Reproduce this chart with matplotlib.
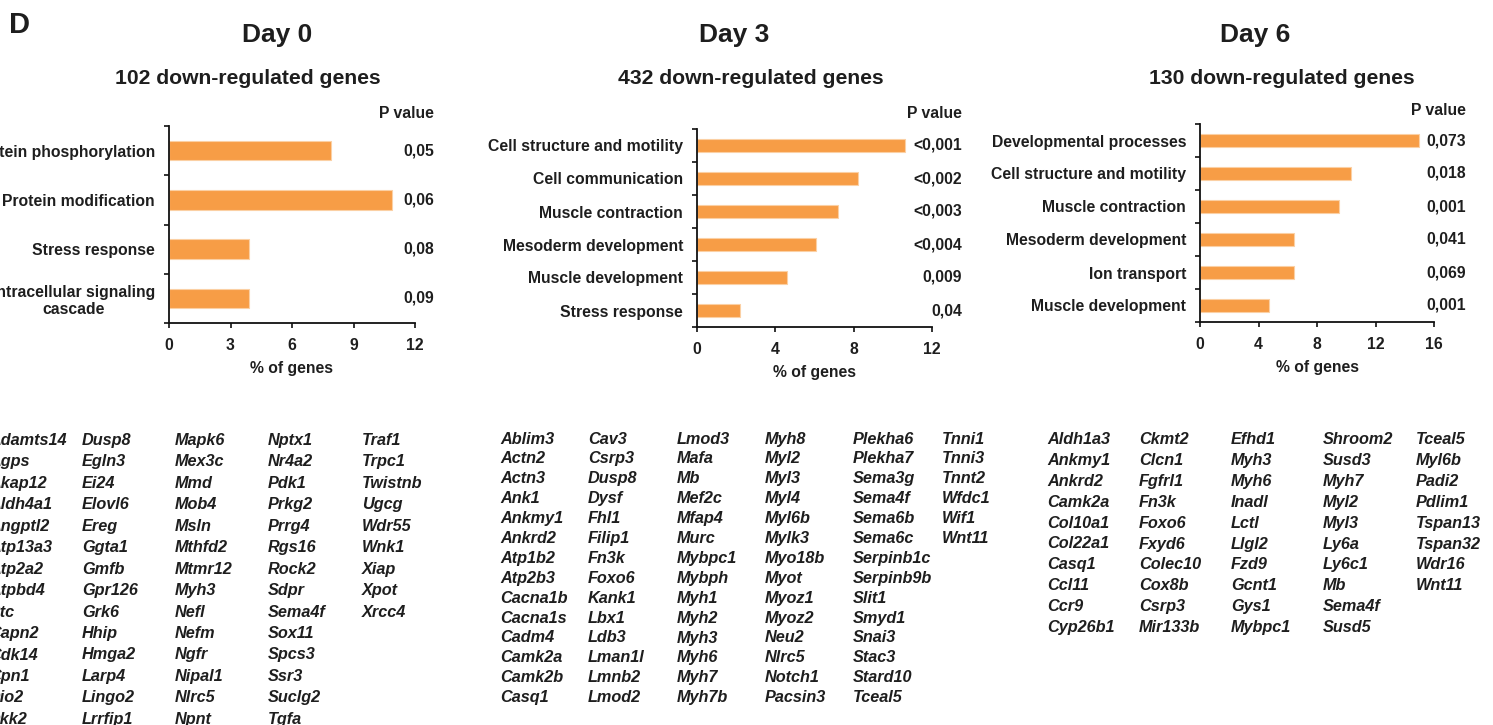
import matplotlib
matplotlib.use("Agg")
import matplotlib.pyplot as plt

# ---------------- data ----------------
day0_categories = ["Protein phosphorylation", "Protein modification", "Stress response",
                   "Intracellular signaling\ncascade"]
day0_values = [7.9, 10.9, 3.9, 3.9]
day0_pvalues = ["0,05", "0,06", "0,08", "0,09"]
day0_xticks = [0, 3, 6, 9, 12]

day3_categories = ["Cell structure and motility", "Cell communication", "Muscle contraction",
                   "Mesoderm development", "Muscle development", "Stress response"]
day3_values = [10.6, 8.2, 7.2, 6.1, 4.6, 2.2]
day3_pvalues = ["<0,001", "<0,002", "<0,003", "<0,004", "0,009", "0,04"]
day3_xticks = [0, 4, 8, 12]

day6_categories = ["Developmental processes", "Cell structure and motility", "Muscle contraction",
                   "Mesoderm development", "Ion transport", "Muscle development"]
day6_values = [15.0, 10.3, 9.5, 6.4, 6.4, 4.7]
day6_pvalues = ["0,073", "0,018", "0,001", "0,041", "0,069", "0,001"]
day6_xticks = [0, 4, 8, 12, 16]

day_titles = ["Day 0", "Day 3", "Day 6"]
subtitles = ["102 down-regulated genes", "432 down-regulated genes", "130 down-regulated genes"]

day0_genes = [
    ["Adamts14", "Agps", "Akap12", "Aldh4a1", "Angptl2", "Atp13a3", "Atp2a2", "Atpbd4",
     "Btc", "Capn2", "Cdk14", "Cpn1", "Dio2", "Dkk2"],
    ["Dusp8", "Egln3", "Ei24", "Elovl6", "Ereg", "Ggta1", "Gmfb", "Gpr126", "Grk6", "Hhip",
     "Hmga2", "Larp4", "Lingo2", "Lrrfip1"],
    ["Mapk6", "Mex3c", "Mmd", "Mob4", "Msln", "Mthfd2", "Mtmr12", "Myh3", "Nefl", "Nefm",
     "Ngfr", "Nipal1", "Nlrc5", "Npnt"],
    ["Nptx1", "Nr4a2", "Pdk1", "Prkg2", "Prrg4", "Rgs16", "Rock2", "Sdpr", "Sema4f", "Sox11",
     "Spcs3", "Ssr3", "Suclg2", "Tgfa"],
    ["Traf1", "Trpc1", "Twistnb", "Ugcg", "Wdr55", "Wnk1", "Xiap", "Xpot", "Xrcc4"],
]
day3_genes = [
    ["Ablim3", "Actn2", "Actn3", "Ank1", "Ankmy1", "Ankrd2", "Atp1b2", "Atp2b3", "Cacna1b",
     "Cacna1s", "Cadm4", "Camk2a", "Camk2b", "Casq1"],
    ["Cav3", "Csrp3", "Dusp8", "Dysf", "Fhl1", "Filip1", "Fn3k", "Foxo6", "Kank1", "Lbx1",
     "Ldb3", "Lman1l", "Lmnb2", "Lmod2"],
    ["Lmod3", "Mafa", "Mb", "Mef2c", "Mfap4", "Murc", "Mybpc1", "Mybph", "Myh1", "Myh2",
     "Myh3", "Myh6", "Myh7", "Myh7b"],
    ["Myh8", "Myl2", "Myl3", "Myl4", "Myl6b", "Mylk3", "Myo18b", "Myot", "Myoz1", "Myoz2",
     "Neu2", "Nlrc5", "Notch1", "Pacsin3"],
    ["Plekha6", "Plekha7", "Sema3g", "Sema4f", "Sema6b", "Sema6c", "Serpinb1c", "Serpinb9b",
     "Slit1", "Smyd1", "Snai3", "Stac3", "Stard10", "Tceal5"],
    ["Tnni1", "Tnni3", "Tnnt2", "Wfdc1", "Wif1", "Wnt11"],
]
day6_genes = [
    ["Aldh1a3", "Ankmy1", "Ankrd2", "Camk2a", "Col10a1", "Col22a1", "Casq1", "Ccl11", "Ccr9",
     "Cyp26b1"],
    ["Ckmt2", "Clcn1", "Fgfrl1", "Fn3k", "Foxo6", "Fxyd6", "Colec10", "Cox8b", "Csrp3",
     "Mir133b"],
    ["Efhd1", "Myh3", "Myh6", "Inadl", "Lctl", "Llgl2", "Fzd9", "Gcnt1", "Gys1", "Mybpc1"],
    ["Shroom2", "Susd3", "Myh7", "Myl2", "Myl3", "Ly6a", "Ly6c1", "Mb", "Sema4f", "Susd5"],
    ["Tceal5", "Myl6b", "Padi2", "Pdlim1", "Tspan13", "Tspan32", "Wdr16", "Wnt11"],
]

# ---------------- style ----------------
W, H = 1493, 725
FONT = "Liberation Sans"
TXT = "#1e1e1e"
AXC = "#111111"
BAR = "#F79D46"
BAR_EDGE = "#FBD0A4"
FS = 11.3
GFS = 11.7

plt.rcParams["font.family"] = [FONT, "DejaVu Sans"]
fig = plt.figure(figsize=(W / 100, H / 100), dpi=100)


def fx(x):
    return x / W


def fy(y):
    return 1 - y / H


panels = [
    dict(cats=day0_categories, vals=day0_values, pv=day0_pvalues, ticks=day0_xticks,
         box=(169, 415, 126, 323), pright=434, ptitle_y=118, title_x=277, sub_x=248,
         genes=day0_genes, gx=[-11, 82, 175, 268, 362], gy0=445, gdy=21.45),
    dict(cats=day3_categories, vals=day3_values, pv=day3_pvalues, ticks=day3_xticks,
         box=(697, 932, 129, 327), pright=962, ptitle_y=118, title_x=734, sub_x=751,
         genes=day3_genes, gx=[500, 588, 677, 765, 853, 942], gy0=443.5, gdy=19.9),
    dict(cats=day6_categories, vals=day6_values, pv=day6_pvalues, ticks=day6_xticks,
         box=(1200, 1434, 124, 322), pright=1466, ptitle_y=115, title_x=1255, sub_x=1282,
         genes=day6_genes, gx=[1047, 1139, 1231, 1323, 1416], gy0=444.5, gdy=20.8),
]

for i, p in enumerate(panels):
    x0, x1, yt, yb = p["box"]
    ax = fig.add_axes([fx(x0), fy(yb), (x1 - x0) / W, (yb - yt) / H])
    n = len(p["cats"])
    pos = list(range(n))
    ax.barh(pos, p["vals"], height=0.4, color=BAR, edgecolor=BAR_EDGE, linewidth=0.8)
    ax.set_ylim(n - 0.5, -0.5)
    ax.set_xlim(p["ticks"][0], p["ticks"][-1])
    ax.set_xticks(p["ticks"])
    ax.set_xticklabels([str(t) for t in p["ticks"]], fontsize=FS, fontweight="bold", color=TXT)
    ax.set_yticks(pos)
    ax.set_yticklabels(p["cats"], fontsize=FS, fontweight="bold", color=TXT,
                       multialignment="center")
    ax.set_yticks([k - 0.5 for k in range(n + 1)], minor=True)
    ax.tick_params(axis="y", which="major", length=0, pad=10)
    ax.tick_params(axis="y", which="minor", length=3.5, width=1.2, color=AXC)
    ax.tick_params(axis="x", which="major", length=3.5, width=1.2, color=AXC, pad=7)
    for s in ["top", "right"]:
        ax.spines[s].set_visible(False)
    for s in ["left", "bottom"]:
        ax.spines[s].set_linewidth(1.3)
        ax.spines[s].set_color(AXC)
    ax.set_facecolor("none")

    # x label
    fig.text(fx((x0 + x1) / 2), fy(yb + 50), "% of genes", ha="center", va="baseline",
             fontsize=FS, fontweight="bold", color=TXT)
    # P value header and values
    fig.text(fx(p["pright"]), fy(p["ptitle_y"]), "P value", ha="right", va="baseline",
             fontsize=FS, fontweight="bold", color=TXT)
    tr = ax.get_yaxis_transform()
    xa = (p["pright"] - x0) / (x1 - x0)
    for k, pv in enumerate(p["pv"]):
        ax.text(xa, k, pv, transform=tr, ha="right", va="center", fontsize=FS,
                fontweight="bold", color=TXT, clip_on=False)

    # titles
    fig.text(fx(p["title_x"]), fy(42), day_titles[i], ha="center", va="baseline",
             fontsize=19, fontweight="bold", color=TXT)
    fig.text(fx(p["sub_x"]), fy(84), subtitles[i], ha="center", va="baseline",
             fontsize=15.2, fontweight="bold", color=TXT)

    # gene lists
    for c, col in enumerate(p["genes"]):
        for r, g in enumerate(col):
            fig.text(fx(p["gx"][c]), fy(p["gy0"] + r * p["gdy"]), g, ha="left",
                     va="baseline", fontsize=GFS, fontweight="bold", fontstyle="italic",
                     color=TXT)

fig.text(fx(9), fy(33), "D", ha="left", va="baseline", fontsize=21, fontweight="bold",
         color=TXT)

fig.savefig("out.png", dpi=100, facecolor="white")
